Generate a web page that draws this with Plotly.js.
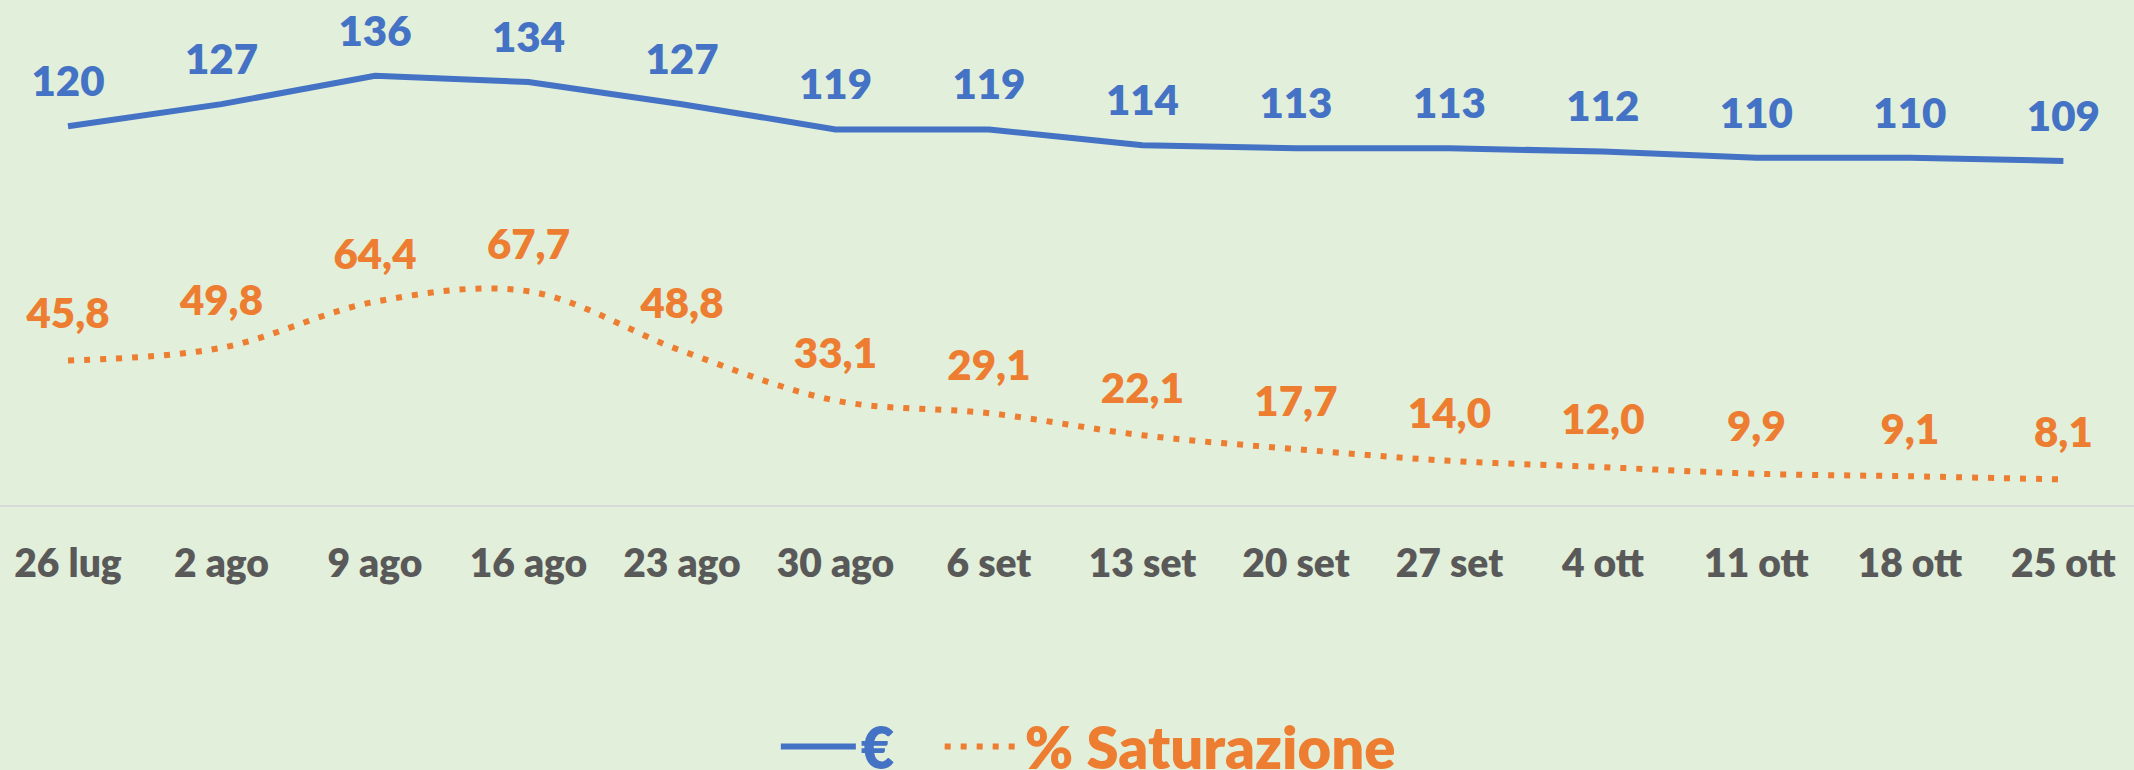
<!DOCTYPE html>
<html>
<head>
<meta charset="utf-8">
<script src="https://cdn.plot.ly/plotly-3.0.1.min.js"></script>
<style>
  html, body { margin: 0; padding: 0; background: #E2EFDA; }
  #chart { width: 2134px; height: 770px; }
</style>
</head>
<body>
<div id="chart"></div>
<script>
const dates = ['26 lug','2 ago','9 ago','16 ago','23 ago','30 ago','6 set','13 set','20 set','27 set','4 ott','11 ott','18 ott','25 ott'];
const euro = [120,127,136,134,127,119,119,114,113,113,112,110,110,109];
const saturazione = [45.8,49.8,64.4,67.7,48.8,33.1,29.1,22.1,17.7,14.0,12.0,9.9,9.1,8.1];

const FONT = 'Lato, "Open Sans", sans-serif';
const BLUE = '#4472C4';
const ORANGE = '#ED7D31';
const W = 800;

const traces = [
  {
    x: dates, y: euro, type: 'scatter', mode: 'lines+markers+text',
    name: '<span style="color:' + BLUE + '">€</span>\u00A0\u00A0\u00A0',
    line: { color: BLUE, width: 6 },
    marker: { size: 30, color: 'rgba(0,0,0,0)' },
    texttemplate: '%{y:.0f}', textposition: 'top center',
    textfont: { family: FONT, size: 42, color: BLUE, weight: W },
    hoverinfo: 'skip'
  },
  {
    x: dates, y: saturazione, type: 'scatter', mode: 'lines+markers+text',
    name: '<span style="color:' + ORANGE + '">% Saturazione</span>',
    line: { color: ORANGE, width: 6, dash: '6px,10px', shape: 'spline', smoothing: 1 },
    marker: { size: 34, color: 'rgba(0,0,0,0)' },
    texttemplate: '%{y:.1f}', textposition: 'top center',
    textfont: { family: FONT, size: 42, color: ORANGE, weight: W },
    hoverinfo: 'skip'
  }
];

const layout = {
  width: 2134, height: 770,
  paper_bgcolor: '#E2EFDA', plot_bgcolor: '#E2EFDA',
  separators: ',.',
  margin: { l: 0, r: 0, t: 0, b: 265, autoexpand: false },
  font: { family: FONT, weight: W },
  showlegend: true,
  legend: {
    orientation: 'h', x: 0.51, xanchor: 'center', yref: 'container', y: 0.03, yanchor: 'middle',
    font: { family: FONT, size: 58, weight: W },
    itemwidth: 75, bgcolor: 'rgba(0,0,0,0)'
  },
  xaxis: {
    type: 'category', range: [-0.443, 13.46], fixedrange: true,
    showline: true, linecolor: '#D9D9D9', linewidth: 2,
    showgrid: false, zeroline: false, ticks: '',
    ticklabelstandoff: 23,
    tickfont: { family: FONT, size: 39, color: '#595959', weight: W }
  },
  yaxis: {
    range: [0, 160], visible: false, showgrid: false, zeroline: false, fixedrange: true
  }
};

Plotly.newPlot('chart', traces, layout, { staticPlot: true, displayModeBar: false });
</script>
</body>
</html>
